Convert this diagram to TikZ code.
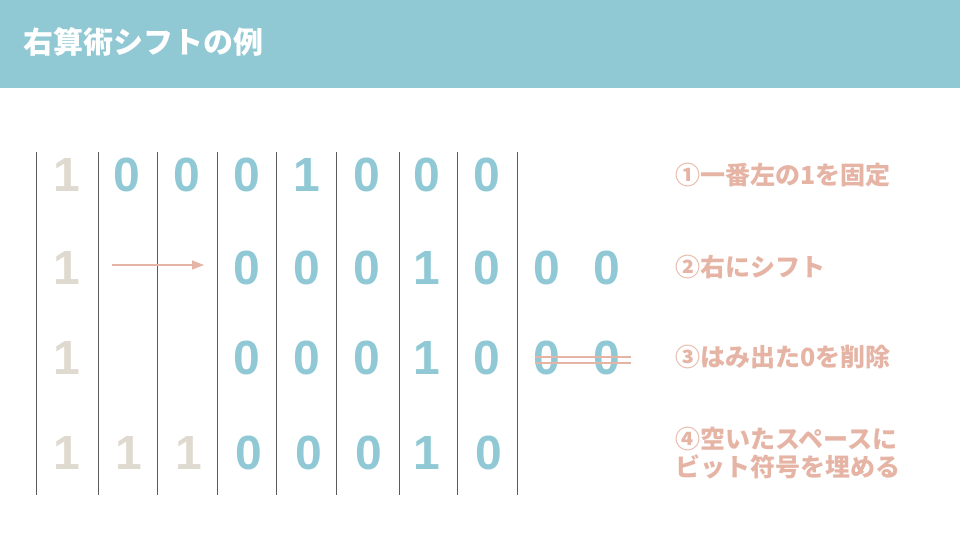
\documentclass[tikz,border=0pt]{standalone}
\usepackage{fontspec}
\setmainfont{Liberation Sans}
\newfontfamily\jpfont{Noto Sans CJK JP}
\usepackage{tikz}
\usetikzlibrary{arrows.meta}

\definecolor{headbg}{HTML}{90C8D4}
\definecolor{bitcol}{HTML}{90C9D5}
\definecolor{signcol}{HTML}{DFDAD0}
\definecolor{notecol}{HTML}{E6B4A5}
\definecolor{linecol}{HTML}{5A5A5A}

\tikzset{
  bit/.style={inner sep=0pt, text=bitcol, font=\fontsize{48}{48}\selectfont\bfseries},
  signbit/.style={bit, text=signcol},
  note/.style={anchor=west, inner sep=0pt, text=notecol, align=left,
    font=\jpfont\bfseries\fontsize{25}{28}\selectfont},
  sepline/.style={draw=linecol, line width=1pt},
  shiftarrow/.style={draw=notecol, line width=1.6pt, -{Triangle[length=12pt,width=9pt]}},
  strike/.style={draw=notecol, line width=1.6pt}
}

\begin{document}
\begin{tikzpicture}[x=1pt,y=-1pt]
    \useasboundingbox (0,0) rectangle (960,540);
    % header
    \fill[headbg] (0,0) rectangle (960,88);
    \node[anchor=west, inner sep=0pt, text=white, font=\jpfont\bfseries\fontsize{30}{30}\selectfont]
        (title) at (23,42) {右算術シフトの例};

    % separators
    \foreach \x [count=\i] in {36,98,157,217,276,336,399,457,517}
        \draw[sepline] (\x,152) coordinate (top\i) -- (\x,495) coordinate (bot\i);

    % row 1: original value
    \node[signbit] (a1) at (67,175) {1};
    \foreach \x/\b [count=\i from 2] in {127/0,187/0,247/0,307/1,367/0,427/0,487/0}
        \node[bit] (a\i) at (\x,175) {\b};

    % row 2: shifted right
    \node[signbit] (b1) at (67,268) {1};
    \foreach \x/\b [count=\i from 2] in {247/0,307/0,367/0,427/1,487/0,547/0,607/0}
        \node[bit] (b\i) at (\x,268) {\b};
    \coordinate (sa) at (112,265);
    \coordinate (sb) at (204,265);
    \draw[shiftarrow] (sa) -- (sb);

    % row 3: overflow removed
    \node[signbit] (c1) at (67,358) {1};
    \foreach \x/\b [count=\i from 2] in {247/0,307/0,367/0,427/1,487/0,547/0,607/0}
        \node[bit] (c\i) at (\x,358) {\b};
    \draw[strike] (535,357) -- (631,357);
    \draw[strike] (535,363) -- (631,363);

    % row 4: sign bits filled in
    \foreach \x/\b [count=\i] in {67/1,129/1,189/1}
        \node[signbit] (d\i) at (\x,453) {\b};
    \foreach \x/\b [count=\i from 4] in {249/0,309/0,369/0,427/1,489/0}
        \node[bit] (d\i) at (\x,453) {\b};

    % notes
    \node[note] (n1) at (675,175) {①一番左の1を固定};
    \node[note] (n2) at (675,267) {②右にシフト};
    \node[note] (n3) at (675,357) {③はみ出た0を削除};
    \node[note] (n4) at (675,453) {④空いたスペースに\\ビット符号を埋める};
\end{tikzpicture}
\end{document}
